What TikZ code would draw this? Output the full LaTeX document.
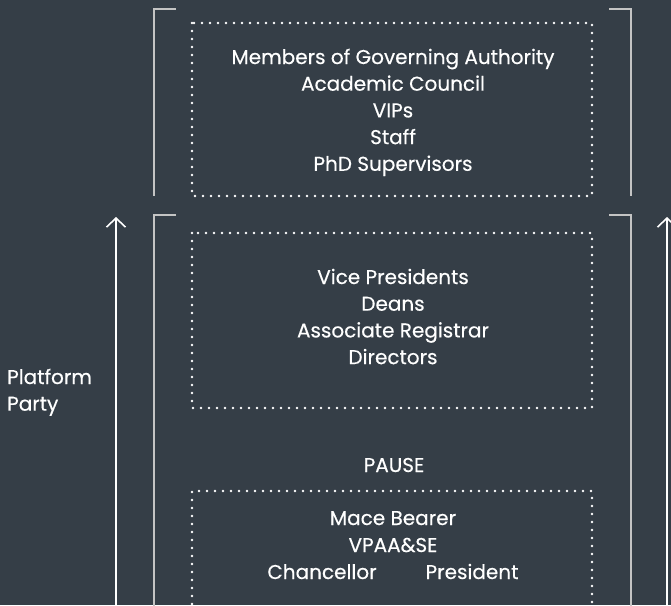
\documentclass[tikz,border=0pt]{standalone}
\usepackage{fontspec}
\setmainfont{Poppins}[FakeBold=0.35]
\usetikzlibrary{arrows.meta}

\definecolor{slate}{HTML}{353E47}
\definecolor{bracketgray}{HTML}{C4C4C4}

\begin{document}
\begin{tikzpicture}[x=1pt,y=-1pt,
  font=\fontsize{20}{26.7}\selectfont,
  every node/.style={text=white, inner sep=0pt},
  line/.style={anchor=base},
  bracket/.style={bracketgray, line width=1.8pt},
  dotbox/.style={white, line width=2.6pt, line cap=round, dash pattern=on 0pt off 8pt},
  rise/.style={white, line width=1.6pt, -{Straight Barb[length=9pt,width=19pt]}}]

\fill[slate] (0,0) rectangle (671,605);
\useasboundingbox (0,0) rectangle (671,605);

% upper group
\draw[bracket] (176,9) -- (154,9) -- (154,196);
\draw[bracket] (609,9) -- (631,9) -- (631,196);
\draw[dotbox] (192,23) rectangle (592,196);
\foreach \txt [count=\i] in {Members of Governing Authority,Academic Council,VIPs,Staff,PhD Supervisors}
  \node[line] (guest\i) at (393,{64+26.7*(\i-1)}) {\txt};

% lower group
\draw[bracket] (176,215) -- (154,215) -- (154,610);
\draw[bracket] (609,215) -- (631,215) -- (631,610);
\draw[dotbox] (192,233) rectangle (592,408);
\foreach \txt [count=\i] in {Vice Presidents,Deans,Associate Registrar,Directors}
  \node[line] (officer\i) at (393,{284+26.7*(\i-1)}) {\txt};

\node[line] (pause) at (394,472) {PAUSE};

\draw[dotbox] (192,612) -- (192,491) -- (592,491) -- (592,612);
\node[line] (mace) at (393,525) {Mace Bearer};
\node[line] (vpaa) at (393,552) {VPAA\&SE};
\node[line] (chancellor) at (322,579) {Chancellor};
\node[line] (president) at (472,579) {President};

% procession arrows
\coordinate (lfoot) at (116,606);
\coordinate (lhead) at (116,217);
\coordinate (rfoot) at (667,606);
\coordinate (rhead) at (667,217);
\draw[rise] (lfoot) -- (lhead);
\draw[rise] (rfoot) -- (rhead);

\node[line, anchor=base west] (platform) at (7,384) {Platform};
\node[line, anchor=base west] (party) at (7,410.7) {Party};

\end{tikzpicture}
\end{document}
